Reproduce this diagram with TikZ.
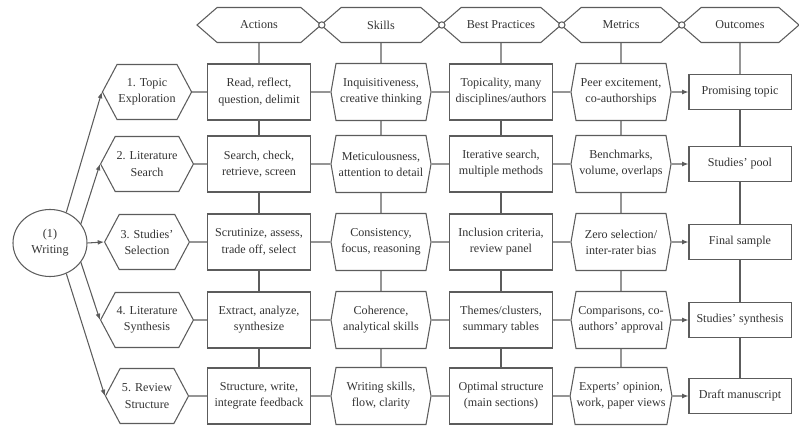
\documentclass[tikz,border=0pt]{standalone}
\usepackage{fontspec}
\setmainfont{Liberation Serif}
\usetikzlibrary{shapes.symbols,shapes.geometric,arrows.meta}

\definecolor{linegray}{HTML}{5C5C5C}
\definecolor{textgray}{HTML}{333333}

\tikzset{every path/.style={line width=0.75pt}}
\tikzset{
  base/.style={draw=linegray,text=textgray,align=center,inner sep=1pt,
    font=\fontsize{8.6}{11.5}\selectfont},
  header/.style={base,signal,signal to=east and west,signal pointer angle=82,
    minimum width=3cm,minimum height=0.875cm},
  stepbox/.style={base,signal,signal to=east and west,signal pointer angle=124,
    minimum width=2.075cm,minimum height=1.375cm},
  rectbox/.style={base,rectangle,minimum width=2.575cm,minimum height=1.4cm},
  hexbox/.style={base,signal,signal to=east and west,signal pointer angle=160,
    minimum width=2.5cm,minimum height=1.425cm},
  outbox/.style={base,rectangle,minimum width=2.55cm,minimum height=0.875cm},
  joint/.style={circle,draw=linegray,fill=white,inner sep=0pt,minimum size=4.5pt},
  link/.style={draw=linegray},
  flow/.style={draw=linegray,-{Latex[length=4.5pt,width=3.5pt]}}
}

\begin{document}
\begin{tikzpicture}[x=0.025cm,y=-0.025cm]
    \useasboundingbox (0,0) rectangle (799,438);
    % column headers
    \node[header,minimum width=3.1cm]  (hact) at (259,25) {Actions};
    \node[header]                      (hskl) at (381,25) {Skills};
    \node[header]                      (hprc) at (501,25) {Best Practices};
    \node[header]                      (hmet) at (621,25) {Metrics};
    \node[header,minimum width=2.95cm] (hout) at (740,25) {Outcomes};
    \node[joint] (j1) at (hact.east) {};
    \node[joint] (j2) at (hskl.east) {};
    \node[joint] (j3) at (hprc.east) {};
    \node[joint] (j4) at (hmet.east) {};
    % start
    \node[base,ellipse,inner sep=0pt,minimum width=1.85cm,minimum height=1.675cm]
      (writing) at (50,243) {(1)\\Writing};
    % steps
    \node[stepbox] (t1) at (147,92)  {1. Topic\\Exploration};
    \node[stepbox] (t2) at (147,164) {2. Literature\\Search};
    \node[stepbox] (t3) at (147,242) {3. Studies'\\Selection};
    \node[stepbox] (t4) at (147,320) {4. Literature\\Synthesis};
    \node[stepbox] (t5) at (147,396) {5. Review\\Structure};
    % actions
    \node[rectbox] (a1) at (259,92)  {Read, reflect,\\question, delimit};
    \node[rectbox] (a2) at (259,164) {Search, check,\\retrieve, screen};
    \node[rectbox] (a3) at (259,242) {Scrutinize, assess,\\trade off, select};
    \node[rectbox] (a4) at (259,320) {Extract, analyze,\\synthesize};
    \node[rectbox] (a5) at (259,396) {Structure, write,\\integrate feedback};
    % skills
    \node[hexbox] (s1) at (381,92)  {Inquisitiveness,\\creative thinking};
    \node[hexbox] (s2) at (381,164) {Meticulousness,\\attention to detail};
    \node[hexbox] (s3) at (381,242) {Consistency,\\focus, reasoning};
    \node[hexbox] (s4) at (381,320) {Coherence,\\analytical skills};
    \node[hexbox] (s5) at (381,396) {Writing skills,\\flow, clarity};
    % best practices
    \node[rectbox] (p1) at (501,92)  {Topicality, many\\disciplines/authors};
    \node[rectbox] (p2) at (501,164) {Iterative search,\\multiple methods};
    \node[rectbox] (p3) at (501,242) {Inclusion criteria,\\review panel};
    \node[rectbox] (p4) at (501,320) {Themes/clusters,\\summary tables};
    \node[rectbox] (p5) at (501,396) {Optimal structure\\(main sections)};
    % metrics
    \node[hexbox] (m1) at (621,92)  {Peer excitement,\\co-authorships};
    \node[hexbox] (m2) at (621,164) {Benchmarks,\\volume, overlaps};
    \node[hexbox] (m3) at (621,242) {Zero selection/\\inter-rater bias};
    \node[hexbox] (m4) at (621,320) {Comparisons, co-\\authors' approval};
    \node[hexbox] (m5) at (621,396) {Experts' opinion,\\work, paper views};
    % outcomes
    \node[outbox] (o1) at (740,92)  {Promising topic};
    \node[outbox] (o2) at (740,164) {Studies' pool};
    \node[outbox] (o3) at (740,242) {Final sample};
    \node[outbox] (o4) at (740,320) {Studies' synthesis};
    \node[outbox] (o5) at (740,396) {Draft manuscript};
    % writing to steps
    \draw[flow] (writing.62) -- (t1.west);
    \draw[flow] (writing.32) -- (t2.west);
    \draw[flow] (writing.east) -- (t3.west);
    \draw[flow] (writing.-32) -- (t4.west);
    \draw[flow] (writing.-62) -- (t5.west);
    % rows
    \path[link] (t1) edge (a1) (a1) edge (s1) (s1) edge (p1) (p1) edge (m1);
    \path[link] (t2) edge (a2) (a2) edge (s2) (s2) edge (p2) (p2) edge (m2);
    \path[link] (t3) edge (a3) (a3) edge (s3) (s3) edge (p3) (p3) edge (m3);
    \path[link] (t4) edge (a4) (a4) edge (s4) (s4) edge (p4) (p4) edge (m4);
    \path[link] (t5) edge (a5) (a5) edge (s5) (s5) edge (p5) (p5) edge (m5);
    \draw[flow] (m1) -- (o1);
    \draw[flow] (m2) -- (o2);
    \draw[flow] (m3) -- (o3);
    \draw[flow] (m4) -- (o4);
    \draw[flow] (m5) -- (o5);
    % columns
    \path[link] (hact) edge (a1) (a1) edge (a2) (a2) edge (a3) (a3) edge (a4) (a4) edge (a5);
    \path[link] (hskl) edge (s1) (s1) edge (s2) (s2) edge (s3) (s3) edge (s4) (s4) edge (s5);
    \path[link] (hprc) edge (p1) (p1) edge (p2) (p2) edge (p3) (p3) edge (p4) (p4) edge (p5);
    \path[link] (hmet) edge (m1) (m1) edge (m2) (m2) edge (m3) (m3) edge (m4) (m4) edge (m5);
    \path[link] (hout) edge (o1) (o1) edge (o2) (o2) edge (o3) (o3) edge (o4) (o4) edge (o5);
  \end{tikzpicture}
\end{document}
